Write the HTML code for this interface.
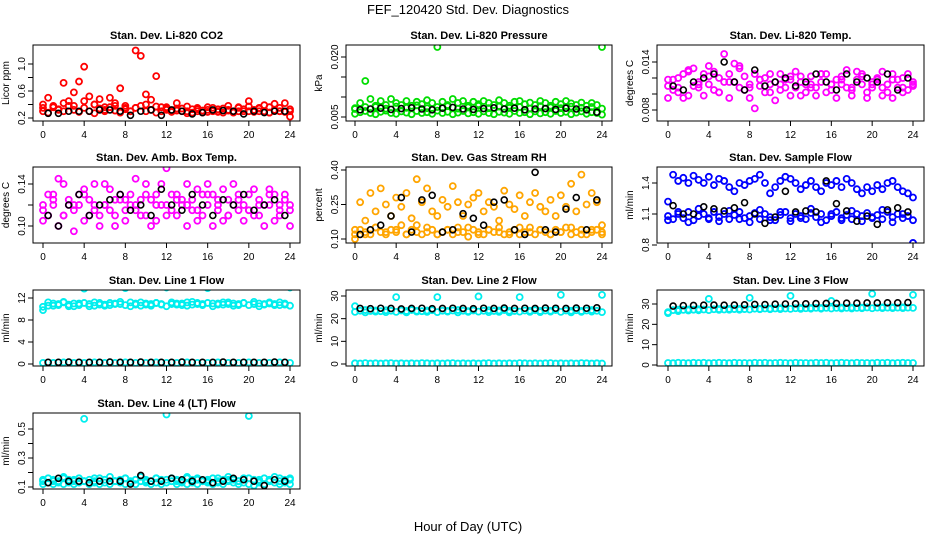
<!DOCTYPE html>
<html><head><meta charset="utf-8"><style>
body{margin:0;background:#fff;}
svg{display:block;font-family:"Liberation Sans",Arial,sans-serif;}
</style></head><body>
<svg id="chart" width="936" height="540" viewBox="0 0 936 540">
<text x="468" y="14" text-anchor="middle" font-size="13">FEF_120420  Std. Dev. Diagnostics</text>
<text x="468" y="531" text-anchor="middle" font-size="13">Hour of Day (UTC)</text>
</svg>
<script>
const hourTicks=[0,4,8,12,16,20,24];
const blackHours=[0.5,1.5,2.5,3.5,4.5,5.5,6.5,7.5,8.5,9.5,10.5,11.5,12.5,13.5,14.5,15.5,16.5,17.5,18.5,19.5,20.5,21.5,22.5,23.5];
// CO2
const co2A=[0.35,0.5,0.38,0.32,0.72,0.45,0.58,0.74,0.96,0.52,0.4,0.48,0.32,0.5,0.38,0.64,0.35,0.3,1.2,1.12,0.55,0.47,0.82,0.36,0.32,0.3,0.42,0.34,0.3,0.28,0.33,0.31,0.29,0.35,0.3,0.28,0.32,0.3,0.36,0.3,0.45,0.32,0.3,0.39,0.28,0.41,0.3,0.42,0.22];
const co2B=[0.3,0.28,0.36,0.33,0.3,0.38,0.32,0.29,0.35,0.3,0.27,0.34,0.3,0.36,0.31,0.28,0.33,0.3,0.35,0.38,0.3,0.32,0.28,0.3,0.34,0.29,0.31,0.3,0.27,0.33,0.3,0.28,0.32,0.3,0.29,0.34,0.31,0.28,0.3,0.33,0.3,0.29,0.35,0.3,0.28,0.32,0.3,0.29,0.3];
const co2C=[0.4,0.36,0.42,0.38,0.45,0.4,0.36,0.42,0.38,0.35,0.4,0.37,0.36,0.34,0.37,0.35,0.36,0.33,0.38,0.35,0.37,0.34,0.36,0.35,0.33];
const co2K=[0.27,0.27,0.3,0.3,0.3,0.32,0.32,0.3,0.24,0.3,0.32,0.24,0.32,0.3,0.26,0.28,0.32,0.31,0.3,0.26,0.3,0.28,0.3,0.3];
// Pressure
const presA=[0.007,0.0085,0.014,0.0095,0.0075,0.009,0.008,0.0095,0.0085,0.008,0.009,0.0078,0.0088,0.0082,0.0092,0.0085,0.0225,0.0088,0.008,0.0095,0.0085,0.009,0.0078,0.0088,0.0082,0.009,0.0085,0.008,0.0092,0.0085,0.0078,0.0088,0.009,0.0082,0.0086,0.008,0.009,0.0085,0.0078,0.0088,0.0082,0.009,0.0084,0.008,0.0086,0.0078,0.0085,0.008,0.0225];
const presB=[0.0058,0.0062,0.0065,0.006,0.0057,0.0063,0.0066,0.006,0.0058,0.0064,0.0061,0.0057,0.0065,0.006,0.0062,0.0058,0.0066,0.006,0.0063,0.0057,0.0061,0.0065,0.0059,0.0062,0.0058,0.0064,0.006,0.0057,0.0063,0.0061,0.0058,0.0065,0.006,0.0062,0.0057,0.0064,0.0059,0.0062,0.0058,0.0065,0.006,0.0063,0.0057,0.0061,0.0064,0.0058,0.0062,0.006,0.0056];
const presC=[0.0072,0.0075,0.0078,0.0071,0.0076,0.0073,0.0079,0.0072,0.0075,0.0077,0.0071,0.0074,0.0078,0.0072,0.0076,0.0073,0.0075,0.0071,0.0077,0.0074,0.0072,0.0076,0.0073,0.0075,0.0071];
const presK=[0.0068,0.007,0.0072,0.0069,0.0071,0.0073,0.007,0.0068,0.0072,0.0074,0.007,0.0069,0.0071,0.0073,0.007,0.0072,0.0068,0.007,0.0071,0.0069,0.0072,0.007,0.0068,0.0062];
// Li-820 temp
const tempA=[0.011,0.0105,0.012,0.0095,0.013,0.011,0.0115,0.0125,0.0135,0.0105,0.012,0.015,0.0125,0.0115,0.0135,0.0105,0.0095,0.0125,0.011,0.012,0.0102,0.0115,0.0125,0.0108,0.0118,0.0128,0.0098,0.0112,0.0122,0.0108,0.0115,0.0125,0.0105,0.0118,0.0112,0.013,0.0108,0.0118,0.0125,0.0102,0.0115,0.012,0.0098,0.0112,0.0125,0.0108,0.012,0.0105,0.0115];
const tempB=[0.0095,0.0118,0.0102,0.0125,0.0098,0.0132,0.0108,0.0098,0.0112,0.0128,0.0102,0.0115,0.0095,0.0138,0.0108,0.0122,0.0112,0.0082,0.0118,0.0102,0.0125,0.0092,0.0112,0.0118,0.0098,0.0108,0.0122,0.0102,0.0112,0.0098,0.0125,0.0102,0.0112,0.0095,0.0122,0.0108,0.0098,0.0128,0.0112,0.0095,0.0108,0.0118,0.0128,0.0102,0.0095,0.0118,0.0108,0.0125,0.011];
const tempC=[0.0118,0.0108,0.0128,0.0112,0.0122,0.0102,0.0115,0.0132,0.0108,0.0118,0.0112,0.0105,0.0122,0.0115,0.0108,0.0125,0.0112,0.0118,0.0105,0.0122,0.0112,0.0108,0.0118,0.0102,0.0112];
const tempK=[0.011,0.0105,0.0115,0.012,0.0125,0.014,0.0115,0.0105,0.013,0.011,0.0115,0.012,0.011,0.0115,0.0125,0.0115,0.0105,0.0125,0.0115,0.012,0.0115,0.0125,0.0105,0.012];
// Amb box temp
const ambA=[0.12,0.11,0.13,0.1,0.14,0.12,0.115,0.13,0.105,0.125,0.14,0.11,0.12,0.135,0.1,0.125,0.115,0.13,0.12,0.11,0.14,0.125,0.105,0.12,0.155,0.115,0.13,0.12,0.1,0.125,0.135,0.11,0.12,0.13,0.115,0.105,0.125,0.14,0.115,0.12,0.13,0.11,0.125,0.12,0.135,0.105,0.12,0.13,0.115];
const ambB=[0.105,0.13,0.12,0.145,0.11,0.125,0.095,0.12,0.135,0.11,0.12,0.1,0.14,0.115,0.125,0.13,0.105,0.12,0.145,0.125,0.11,0.1,0.13,0.14,0.12,0.13,0.11,0.125,0.14,0.115,0.105,0.13,0.14,0.1,0.125,0.135,0.11,0.12,0.13,0.105,0.115,0.135,0.11,0.1,0.12,0.13,0.11,0.125,0.1];
const ambC=[0.115,0.125,0.11,0.12,0.13,0.115,0.12,0.11,0.125,0.115,0.13,0.12,0.11,0.125,0.12,0.115,0.13,0.12,0.11,0.125,0.115,0.12,0.13,0.115,0.12];
const ambK=[0.11,0.1,0.12,0.13,0.11,0.12,0.125,0.13,0.115,0.12,0.11,0.135,0.12,0.115,0.13,0.12,0.11,0.125,0.12,0.13,0.115,0.12,0.125,0.11];
// RH
const rhA=[0.12,0.14,0.13,0.12,0.15,0.13,0.12,0.14,0.13,0.16,0.12,0.14,0.13,0.12,0.15,0.14,0.12,0.13,0.14,0.12,0.15,0.13,0.11,0.14,0.13,0.12,0.14,0.13,0.15,0.12,0.13,0.14,0.12,0.13,0.15,0.12,0.14,0.13,0.12,0.14,0.13,0.15,0.12,0.13,0.14,0.12,0.13,0.14,0.12];
const rhB=[0.1,0.26,0.18,0.3,0.22,0.32,0.25,0.2,0.28,0.24,0.3,0.19,0.36,0.26,0.32,0.22,0.2,0.27,0.24,0.33,0.26,0.2,0.25,0.28,0.3,0.22,0.26,0.24,0.18,0.31,0.25,0.23,0.29,0.2,0.26,0.3,0.24,0.22,0.27,0.2,0.29,0.24,0.34,0.22,0.38,0.25,0.3,0.26,0.16];
const rhC=[0.14,0.12,0.15,0.13,0.14,0.12,0.16,0.13,0.12,0.14,0.13,0.15,0.12,0.14,0.13,0.12,0.15,0.13,0.14,0.12,0.13,0.15,0.12,0.14,0.13];
const rhK=[0.12,0.14,0.16,0.2,0.28,0.13,0.27,0.29,0.13,0.14,0.21,0.19,0.16,0.26,0.27,0.14,0.12,0.39,0.14,0.13,0.23,0.28,0.14,0.27];
// Sample flow
const sfA=[1.22,1.48,1.42,1.45,1.4,1.47,1.43,1.4,1.46,1.38,1.44,1.42,1.36,1.32,1.4,1.38,1.42,1.44,1.48,1.4,1.3,1.36,1.42,1.46,1.44,1.4,1.34,1.38,1.42,1.36,1.32,1.4,1.38,1.42,1.36,1.44,1.4,1.34,1.3,1.36,1.32,1.38,1.34,1.4,1.42,1.36,1.32,1.3,1.26];
const sfB=[1.08,1.05,1.1,1.06,1.12,1.04,1.08,1.1,1.05,1.12,1.07,1.1,1.05,1.09,1.12,1.06,1.08,1.11,1.05,1.1,1.07,1.04,1.09,1.12,1.06,1.1,1.08,1.05,1.11,1.07,1.1,1.04,1.08,1.12,1.06,1.09,1.05,1.1,1.08,1.11,1.06,1.09,1.05,1.12,1.07,1.1,1.06,1.08,0.82];
const sfC=[1.04,1.12,1.02,1.15,1.06,1.03,1.13,1.05,1.02,1.14,1.04,1.12,1.03,1.06,1.15,1.02,1.1,1.04,1.13,1.03,1.07,1.14,1.02,1.1,1.04];
const sfK=[1.18,1.1,1.1,1.17,1.15,1.13,1.16,1.21,1.1,1.01,1.07,1.32,1.12,1.13,1.12,1.42,1.2,1.13,1.03,1.08,1.0,1.14,1.16,1.12];
// Line 1
const l1A=[9.8,10.6,11.0,10.7,11.2,10.8,10.5,11.0,13.7,10.9,10.6,11.1,10.8,10.7,11.0,10.9,13.8,11.2,10.8,10.6,11.0,10.9,11.1,10.8,13.9,10.9,11.0,10.7,11.2,10.8,11.1,10.9,13.8,11.0,10.8,11.2,10.9,11.0,10.7,11.1,14.5,10.9,11.0,10.8,11.2,10.9,10.7,11.0,13.9];
const l1B=[10.4,11.2,10.6,10.9,11.3,10.5,11.0,10.7,11.1,10.5,11.2,10.8,10.6,11.1,10.9,11.3,10.7,10.5,11.0,11.2,10.8,10.6,11.1,10.9,10.5,11.2,10.8,11.0,10.6,11.3,10.9,10.7,11.1,10.5,11.0,10.8,11.2,10.6,10.9,11.1,10.7,11.3,10.5,10.9,11.0,10.7,11.2,10.8,10.6];
const l1C=[0.2,0.2,0.3,0.2,0.2,0.3,0.2,0.2,0.3,0.2,0.2,0.3,0.2,0.2,0.3,0.2,0.2,0.3,0.2,0.2,0.3,0.2,0.2,0.3,0.2];
const l1K=[0.3,0.3,0.35,0.3,0.3,0.3,0.35,0.3,0.3,0.35,0.3,0.3,0.3,0.35,0.3,0.3,0.3,0.35,0.3,0.3,0.3,0.3,0.35,0.3];
// Line 2
const l2A=[25.5,23.5,23.8,23.4,23.6,23.3,23.7,23.5,29.5,23.6,23.4,23.8,23.5,23.3,23.6,23.7,29.5,23.5,23.4,23.6,23.8,23.5,23.3,23.6,29.8,23.5,23.7,23.4,23.6,23.8,23.5,23.4,29.5,23.6,23.5,23.7,23.4,23.6,23.5,23.8,30.5,23.6,23.5,23.7,23.4,23.6,23.8,23.5,30.5];
const l2B=[0.3,0.2,0.4,0.2,0.3,0.2,0.3,0.4,0.2,0.3,0.2,0.3,0.2,0.4,0.3,0.2,0.3,0.2,0.3,0.4,0.2,0.3,0.2,0.3,0.2,0.3,0.4,0.2,0.3,0.2,0.3,0.2,0.4,0.3,0.2,0.3,0.2,0.3,0.4,0.2,0.3,0.2,0.3,0.2,0.4,0.3,0.2,0.3,0.2];
const l2C=[23,22.8,23.1,22.9,23,22.8,23.1,23,22.9,23.1,22.8,23,23.1,22.9,23,22.8,23.1,23,22.9,23.1,23,22.8,23,23.1,22.9];
const l2K=[24.5,24.4,24.6,24.5,24.3,24.5,24.6,24.4,24.5,24.6,24.5,24.4,24.6,24.5,24.7,24.5,24.6,24.5,24.7,24.6,24.5,24.7,24.6,24.8];
// Line 3
const l3A=[26,27,27.2,27.1,27.3,27.2,27.4,27.3,32.5,27.4,27.5,27.3,27.6,27.5,27.6,27.5,33,27.7,27.6,27.8,27.7,27.8,27.9,27.8,34,27.9,28,27.9,28,28.1,28,28.1,31.5,28.1,28.2,28.1,28.2,28.1,28.2,28.3,35,28.2,28.3,28.2,28.3,28.2,28.3,28.2,34.5];
const l3B=[1,0.9,1.1,1,0.9,1.1,1,1.1,0.9,1,1.1,1,0.9,1.1,1,1,0.9,1.1,1,1.1,0.9,1,1.1,1,0.9,1.1,1,1,0.9,1.1,1,1.1,0.9,1,1.1,1,0.9,1.1,1,1,0.9,1.1,1,1.1,0.9,1,1.1,1,1];
const l3C=[25.5,26.5,26.8,26.9,27,27.1,27.2,27.2,27.3,27.4,27.4,27.5,27.6,27.6,27.7,27.7,27.8,27.8,27.8,27.9,27.9,28,28,28,28.1];
const l3K=[29,29.2,29.3,29.4,29.5,29.4,29.5,29.6,29.8,29.7,29.9,30,30.1,30.1,30.2,30.3,30.3,30.4,30.4,30.5,30.5,30.6,30.6,30.7];
// Line 4
const l4A=[0.14,0.16,0.15,0.13,0.17,0.15,0.14,0.16,0.57,0.15,0.14,0.16,0.15,0.17,0.14,0.15,0.16,0.14,0.15,0.17,0.15,0.14,0.16,0.15,0.6,0.16,0.15,0.14,0.17,0.15,0.16,0.14,0.15,0.16,0.14,0.15,0.17,0.15,0.14,0.16,0.59,0.15,0.14,0.16,0.15,0.17,0.14,0.15,0.16];
const l4B=[0.12,0.13,0.12,0.14,0.12,0.13,0.12,0.13,0.14,0.12,0.13,0.12,0.13,0.12,0.14,0.13,0.12,0.13,0.12,0.14,0.13,0.12,0.13,0.12,0.13,0.14,0.12,0.13,0.12,0.13,0.12,0.14,0.13,0.12,0.13,0.12,0.14,0.13,0.12,0.13,0.12,0.11,0.13,0.12,0.14,0.13,0.12,0.13,0.12];
const l4C=[0.15,0.14,0.16,0.15,0.14,0.16,0.15,0.14,0.16,0.15,0.14,0.16,0.15,0.14,0.16,0.15,0.14,0.16,0.15,0.14,0.16,0.15,0.14,0.16,0.15];
const l4K=[0.13,0.16,0.14,0.14,0.13,0.14,0.14,0.14,0.12,0.18,0.14,0.14,0.16,0.15,0.14,0.15,0.13,0.14,0.16,0.15,0.14,0.11,0.15,0.14];

const cols=[{l:33,r:300,x0:43,x24:290},{l:346,r:612,x0:355,x24:602},{l:657,r:924,x0:668,x24:913}];
const rows=[{t:45,b:121},{t:167,b:243},{t:290,b:366},{t:413,b:489}];
const panels=[
 {title:"Stan. Dev. Li-820 CO2",ylab:"Licor ppm",c:0,r:0,yA:{v0:0.2,p0:118,v1:1.0,p1:64},ticks:[0.2,0.4,0.6,0.8,1.0],labs:["0.2","","0.6","","1.0"],col:"#ff0000",s:[co2A,co2B,co2C],k:co2K},
 {title:"Stan. Dev. Li-820 Pressure",ylab:"kPa",c:1,r:0,yA:{v0:0.005,p0:117,v1:0.020,p1:57},ticks:[0.005,0.010,0.015,0.020],labs:["0.005","","","0.020"],col:"#00dd00",s:[presA,presB,presC],k:presK},
 {title:"Stan. Dev. Li-820 Temp.",ylab:"degrees C",c:2,r:0,yA:{v0:0.008,p0:110,v1:0.014,p1:62},ticks:[0.008,0.010,0.012,0.014],labs:["0.008","","","0.014"],col:"#ff00ff",s:[tempA,tempB,tempC],k:tempK},
 {title:"Stan. Dev. Amb. Box Temp.",ylab:"degrees C",c:0,r:1,yA:{v0:0.10,p0:226,v1:0.14,p1:184},ticks:[0.10,0.12,0.14],labs:["0.10","","0.14"],col:"#ff00ff",s:[ambA,ambB,ambC],k:ambK},
 {title:"Stan. Dev. Gas Stream RH",ylab:"percent",c:1,r:1,yA:{v0:0.10,p0:239,v1:0.40,p1:170},ticks:[0.10,0.25,0.40],labs:["0.10","0.25","0.40"],col:"#ffa500",s:[rhA,rhB,rhC],k:rhK},
 {title:"Stan. Dev. Sample Flow",ylab:"ml/min",c:2,r:1,yA:{v0:0.8,p0:245,v1:1.4,p1:183},ticks:[0.8,1.1,1.4],labs:["0.8","1.1","1.4"],col:"#0000ff",s:[sfA,sfB,sfC],k:sfK},
 {title:"Stan. Dev. Line 1 Flow",ylab:"ml/min",c:0,r:2,yA:{v0:0,p0:364,v1:12,p1:298},ticks:[0,4,8,12],labs:["0","4","8","12"],col:"#00eeee",s:[l1A,l1B,l1C],k:l1K},
 {title:"Stan. Dev. Line 2 Flow",ylab:"ml/min",c:1,r:2,yA:{v0:0,p0:364,v1:30,p1:296},ticks:[0,10,20,30],labs:["0","10","20","30"],col:"#00eeee",s:[l2A,l2B,l2C],k:l2K},
 {title:"Stan. Dev. Line 3 Flow",ylab:"ml/min",c:2,r:2,yA:{v0:0,p0:365,v1:30,p1:304},ticks:[0,10,20,30],labs:["0","10","20","30"],col:"#00eeee",s:[l3A,l3B,l3C],k:l3K},
 {title:"Stan. Dev. Line 4 (LT) Flow",ylab:"ml/min",c:0,r:3,yA:{v0:0.1,p0:487,v1:0.5,p1:429},ticks:[0.1,0.2,0.3,0.4,0.5],labs:["0.1","","0.3","","0.5"],col:"#00eeee",s:[l4A,l4B,l4C],k:l4K}
];
const NS="http://www.w3.org/2000/svg";
const svg=document.getElementById('chart');
function mk(tag,attrs,parent,txt){const e=document.createElementNS(NS,tag);for(const k in attrs)e.setAttribute(k,attrs[k]);if(txt!==undefined)e.textContent=txt;parent.appendChild(e);return e;}
panels.forEach((p,pi)=>{
 const C=cols[p.c],R=rows[p.r];
 const xs=h=>C.x0+(h/24)*(C.x24-C.x0);
 const ys=v=>p.yA.p0+(v-p.yA.v0)*(p.yA.p1-p.yA.p0)/(p.yA.v1-p.yA.v0);
 const g=mk('g',{},svg);
 
 
 const clip=mk('clipPath',{id:'cp'+pi},g);mk('rect',{x:C.l,y:R.t,width:C.r-C.l,height:R.b-R.t},clip);
 const t=mk('text',{x:(C.l+C.r)/2,y:R.t-6,'text-anchor':'middle','font-size':11,'font-weight':'bold'},g,p.title);
 
 
 const yl=mk('text',{x:0,y:0,transform:`translate(${C.l-24},${(R.t+R.b)/2}) rotate(-90)`,'text-anchor':'middle','font-size':10},g,p.ylab);
 
 
 const pts=mk('g',{'clip-path':`url(#cp${pi})`,fill:'none'},g);
 
 
 p.s.forEach(arr=>{arr.forEach((v,i)=>{const c=mk('circle',{cx:xs(i*24/(arr.length-1)),cy:ys(v),r:3,stroke:p.col,'stroke-width':1.8},pts);
  
  });});
 p.k.forEach((v,i)=>{const c=mk('circle',{cx:xs(blackHours[i]),cy:ys(v),r:3,stroke:'#000','stroke-width':1.6},pts);
  
  });
 const box=mk('rect',{x:C.l,y:R.t,width:C.r-C.l,height:R.b-R.t,fill:'none',stroke:'#000','stroke-width':1},g);
 
 
 hourTicks.forEach(h=>{const x=xs(h);mk('line',{x1:x,x2:x,y1:R.b,y2:R.b+5,stroke:'#000'},g);
  const tl=mk('text',{x:x,y:R.b+17,'text-anchor':'middle','font-size':10},g,String(h));
  
  });
 p.ticks.forEach((v,i)=>{const y=ys(v);mk('line',{x1:C.l-5,x2:C.l,y1:y,y2:y,stroke:'#000'},g);
  if(p.labs[i]){const tl=mk('text',{x:0,y:0,transform:`translate(${C.l-8},${y}) rotate(-90)`,'text-anchor':'middle','font-size':10},g,p.labs[i]);
  
  }});
});
</script>
</body></html>
